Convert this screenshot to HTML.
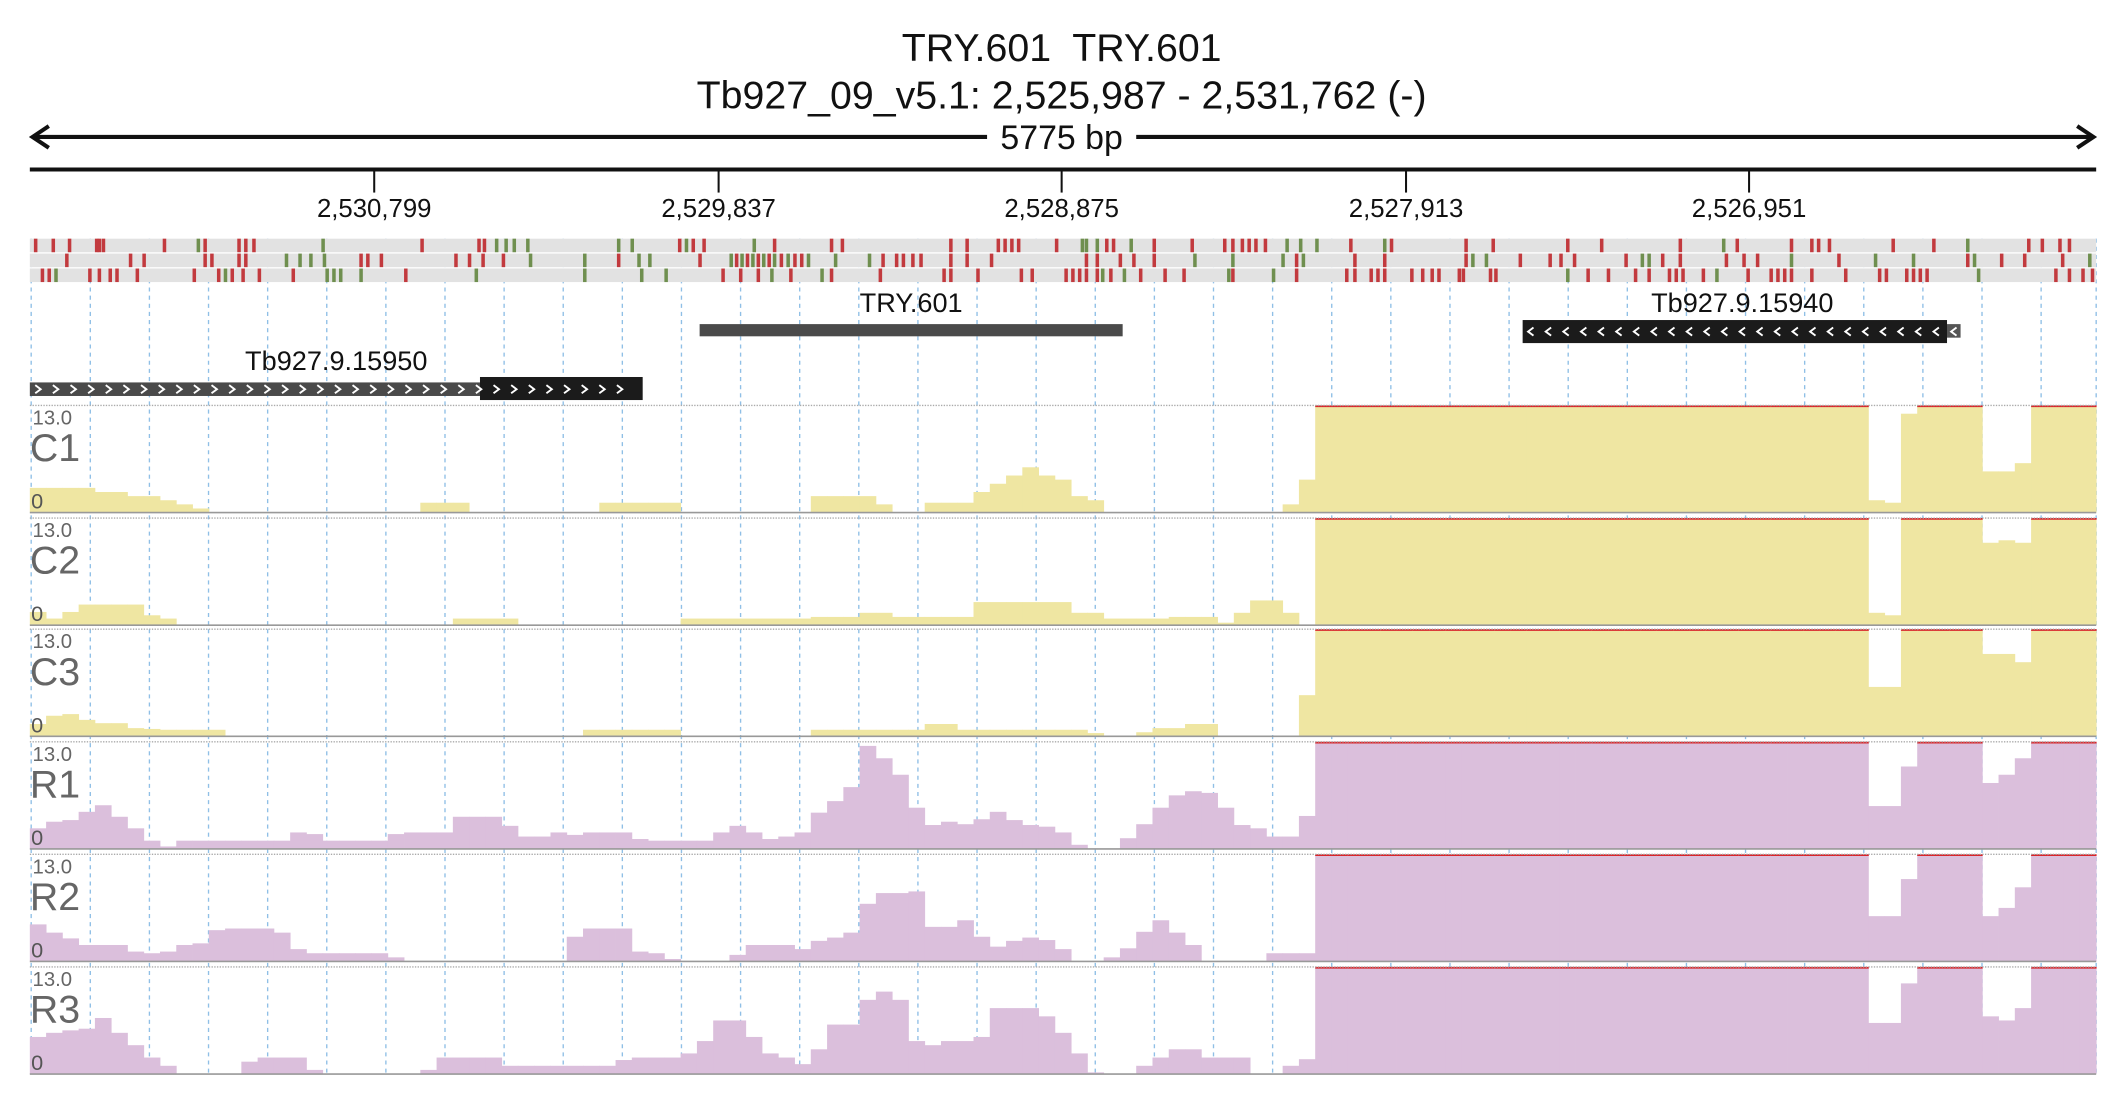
<!DOCTYPE html>
<html><head><meta charset="utf-8"><style>
html,body{margin:0;padding:0;background:#fff;}
svg{display:block;font-family:"Liberation Sans",sans-serif;}
</style></head><body>
<svg id="chart" width="2126" height="1112" viewBox="0 0 1568 820" preserveAspectRatio="none" xmlns="http://www.w3.org/2000/svg">
<g>
<text x="783" y="45" font-size="29" text-anchor="middle" fill="#111" xml:space="preserve">TRY.601  TRY.601</text>
<text x="783" y="80" font-size="29" text-anchor="middle" fill="#111">Tb927_09_v5.1: 2,525,987 - 2,531,762 (-)</text>
</g>
<g>
<line x1="24" y1="101" x2="1544" y2="101" stroke="#111" stroke-width="3"/>
<polyline points="36,93 24,101 36,109" fill="none" stroke="#111" stroke-width="3"/>
<polyline points="1532,93 1544,101 1532,109" fill="none" stroke="#111" stroke-width="3"/>
<rect x="728" y="88" width="110" height="26" fill="#fff"/>
<text x="783" y="110" font-size="25" text-anchor="middle" fill="#111">5775 bp</text>
</g>
<g id="axis">
<line x1="22" y1="125" x2="1546" y2="125" stroke="#111" stroke-width="3"/>
</g>
<g id="grid"></g>
<g id="variants"></g>
<g id="genes"></g>
<g id="tracks"></g>
</svg>
<script>
const NS='http://www.w3.org/2000/svg';
const tickLabels=['2,530,799','2,529,837','2,528,875','2,527,913','2,526,951'];
const tickPos=[276,530,783,1037,1290];
const trackNames=['C1','C2','C3','R1','R2','R3'];
const yMax=13;
const c1=[3,3,3,3,2.5,2.5,2,2,1.5,1,0.5,0,0,0,0,0,0,0,0,0,0,0,0,0,1.2,1.2,1.2,0,0,0,0,0,0,0,0,1.2,1.2,1.2,1.2,1.2,0,0,0,0,0,0,0,0,2,2,2,2,1,0,0,1.2,1.2,1.2,2.5,3.5,4.5,5.5,4.5,4,2,1.5,0,0,0,0,0,0,0,0,0,0,0,1,4,13,13,13,13,13,13,13,13,13,13,13,13,13,13,13,13,13,13,13,13,13,13,13,13,13,13,13,13,13,13,13,13,13,13,1.5,1.2,12,13,13,13,13,5,5,6,13,13,13,13];
const c2=[1.6,0.8,1.6,2.5,2.5,2.5,2.5,1.2,0.8,0,0,0,0,0,0,0,0,0,0,0,0,0,0,0,0,0,0.8,0.8,0.8,0.8,0,0,0,0,0,0,0,0,0,0,0.8,0.8,0.8,0.8,0.8,0.8,0.8,0.8,1,1,1,1.5,1.5,1,1,1,1,1,2.8,2.8,2.8,2.8,2.8,2.8,1.5,1.5,0.8,0.8,0.8,0.8,1,1,1,0.3,1.5,3,3,1.5,0,13,13,13,13,13,13,13,13,13,13,13,13,13,13,13,13,13,13,13,13,13,13,13,13,13,13,13,13,13,13,13,13,13,13,1.5,1.2,13,13,13,13,13,10,10.3,10,13,13,13,13];
const c3=[1.5,2.5,2.7,2,1.6,1.6,1,0.9,0.8,0.8,0.8,0.8,0,0,0,0,0,0,0,0,0,0,0,0,0,0,0,0,0,0,0,0,0,0,0.8,0.8,0.8,0.8,0.8,0.8,0,0,0,0,0,0,0,0,0.8,0.8,0.8,0.8,0.8,0.8,0.8,1.5,1.5,0.8,0.8,0.8,0.8,0.8,0.8,0.8,0.8,0.4,0,0,0.5,1,1,1.5,1.5,0,0,0,0,0,5,13,13,13,13,13,13,13,13,13,13,13,13,13,13,13,13,13,13,13,13,13,13,13,13,13,13,13,13,13,13,13,13,13,13,6,6,13,13,13,13,13,10,10,9,13,13,13,13];
const r1=[2.5,3.3,3.5,4.5,5.3,3.9,2.5,1,0.3,1,1,1,1,1,1,1,2,1.8,1,1,1,1,1.8,2,2,2,3.9,3.9,3.9,2.8,1.5,1.5,2,1.7,2,2,2,1.2,1,1,1,1,2,2.8,2,1.2,1.5,2,4.4,5.8,7.5,12.5,11,9,5,2.9,3.3,3,3.6,4.5,3.5,2.9,2.7,2,0.5,0,0,1.3,3,5,6.5,7,6.8,5,2.9,2.5,1.5,1.5,4,13,13,13,13,13,13,13,13,13,13,13,13,13,13,13,13,13,13,13,13,13,13,13,13,13,13,13,13,13,13,13,13,13,13,5.2,5.2,10,13,13,13,13,8,9,11,13,13,13,13];
const r2=[4.5,3.5,2.8,2,2,2,1.2,1,1.2,2,2.2,3.8,4,4,4,3.5,1.5,1,1,1,1,1,0.5,0,0,0,0,0,0,0,0,0,0,3,4,4,4,1.2,1,0.3,0,0,0,0.8,2,2,2,1.5,2.5,2.9,3.5,7,8.3,8.3,8.5,4.2,4.2,5,3,1.8,2.5,2.9,2.6,1.5,0,0,0.5,1.6,3.6,5,3.5,2,0,0,0,0,1,1,1,13,13,13,13,13,13,13,13,13,13,13,13,13,13,13,13,13,13,13,13,13,13,13,13,13,13,13,13,13,13,13,13,13,13,5.5,5.5,10,13,13,13,13,5.5,6.5,9,13,13,13,13];
const r3=[4.5,5,5.3,5.5,6.8,5,3.5,2,1,0,0,0,0,1.5,2,2,2,0.5,0,0,0,0,0,0,0.5,2,2,2,2,1,1,1,1,1,1,1,1.7,2,2,2,2.5,4,6.5,6.5,4.5,2.5,2,1.2,3,6,6,9,10,9,4,3.5,4,4,4.5,8,8,8,7,5,2.5,0.2,0,0,1,2,3,3,2,2,2,0,0,1,1.8,13,13,13,13,13,13,13,13,13,13,13,13,13,13,13,13,13,13,13,13,13,13,13,13,13,13,13,13,13,13,13,13,13,13,6.2,6.2,11,13,13,13,13,7,6.5,8,13,13,13,13];
const trackValues=[c1,c2,c3,r1,r2,r3];
const variantRow1='25,38,50,70,72,75,120,145g,150,175,180,186,237g,310,352,356,365g,372g,378g,388g,455g,465g,500,505g,510,518,555g,570,612,620,700,712,735,740,745,750,778,797g,800g,808g,815,820,833g,850,878,902,908,915,920,925,932,948g,958g,970g,995,1020g,1025,1080,1100,1155,1180,1238,1270g,1280,1320,1335,1340,1348,1395,1425,1450g,1495,1505,1518,1525';
const variantRow2='48,95,105,150,155,175,180,210g,220g,228g,238g,265,270,280,335,345,355,370,390g,430g,455,470g,478g,515,538g,542,546g,550,554g,558,562g,566,570g,575,580g,585,590,595g,615g,640g,650,660,665,672,678,700,712,730,800,808,825,835,850,880g,908g,945g,955,960g,998,1020,1080,1085g,1095g,1120,1142,1150,1160,1198,1210g,1215g,1225,1238,1272,1285,1295,1320g,1355,1382g,1410g,1450,1455g,1475,1492,1520,1540g';
const variantRow3='30,35,40g,65,72,80,85,100,142,160,165g,170,178,190,215,240g,245g,250g,265g,298,350g,430g,472g,490g,532,545,558,568g,582,605g,612,648,695,700,720,752,760,785,790,795,800,808,812g,818,828g,840,858,872,905g,908,938g,955,992,998,1010,1015,1020,1040,1048,1055,1060,1075,1078,1098,1102,1155g,1170,1185,1205,1215,1230,1235,1240,1255,1265g,1288,1305,1310,1315,1320,1335,1360,1385,1390,1405,1410,1415,1420,1458g,1515,1525,1535,1542';
const variantRows=[variantRow1,variantRow2,variantRow3];

const X0=22,X1=1546,NB=127;
const bw=(X1-X0)/NB;
function xScale(i){return X0+i*bw;}
function mk(tag,attrs,parent){const e=document.createElementNS(NS,tag);for(const k in attrs)e.setAttribute(k,attrs[k]);parent.appendChild(e);return e;}

// axis ticks
const axis=document.getElementById('axis');
tickLabels.forEach((t,i)=>{
  const l=mk('line',{x1:tickPos[i],y1:125,x2:tickPos[i],y2:142,stroke:'#111','stroke-width':1.5},axis);
  
  
  const tx=mk('text',{x:tickPos[i],y:160,'font-size':19,'text-anchor':'middle',fill:'#111'},axis);
  tx.textContent=t;
  
  
});

// grid
const grid=document.getElementById('grid');
for(let k=0;k<36;k++){
  const x=Math.min(23+43.6*k,1546);
  const g=mk('line',{x1:x,y1:176,x2:x,y2:792,stroke:'#8fbfe6','stroke-width':1,'stroke-dasharray':'3,3'},grid);
  
  
}

// variants
const vg=document.getElementById('variants');
const rowY=[176,187,198];
variantRows.forEach((row,r)=>{
  const bg=mk('rect',{x:22,y:rowY[r],width:1524,height:10,fill:'#e2e2e2'},vg);
  
  
  row.split(',').forEach(s=>{
    const green=s.endsWith('g');const x=parseFloat(s);
    const v=mk('rect',{x:x,y:rowY[r],width:2.6,height:10,fill:green?'#6f8f4f':'#c23a3e'},vg);
    
    
  });
});

// genes
const gg=document.getElementById('genes');
function label(t,x,y,name){const e=mk('text',{x:x,y:y,'font-size':20,'text-anchor':'middle',fill:'#111'},gg);e.textContent=t;}
function chev(x0,x1,yc,dir){let d='';for(let x=x0;x<x1-4;x+=13){if(dir>0)d+=`M${x},${yc-3}L${x+4},${yc}L${x},${yc+3}`;else d+=`M${x+4},${yc-3}L${x},${yc}L${x+4},${yc+3}`;}
  const p=mk('path',{d:d,fill:'none',stroke:'#fff','stroke-width':1.4},gg);}
label('TRY.601',672,230,'gene-label-try601');
let r=mk('rect',{x:516,y:239,width:312,height:9,fill:'#4a4a4a'},gg);


label('Tb927.9.15940',1285,230,'gene-label-15940');
r=mk('rect',{x:1436,y:239,width:10,height:10,fill:'#555'},gg);


r=mk('rect',{x:1123,y:236,width:313,height:17,fill:'#1b1b1b'},gg);


chev(1127,1446,244.5,-1);
label('Tb927.9.15950',248,273,'gene-label-15950');
r=mk('rect',{x:22,y:282,width:332,height:10,fill:'#4a4a4a'},gg);


r=mk('rect',{x:354,y:278,width:120,height:17,fill:'#1b1b1b'},gg);


chev(26,466,287,1);

// coverage tracks
const tg=document.getElementById('tracks');
const tops=[299,382,464,547,630,713],TH=79;
trackNames.forEach((nm,t)=>{
  const top=tops[t],base=top+TH;
  const g=mk('g',{},tg);
  
  
  const col=nm[0]==='C'?'#efe6a2':'#dbbfdc';
  const yS=v=>base-Math.min(v,yMax)/yMax*TH;
  trackValues[t].forEach((v,i)=>{
    if(v<=0)return;
    const y=yS(v);
    const b=mk('rect',{x:xScale(i),y:y,width:bw+0.3,height:base-y,fill:col},g);
    
    
    if(v>=yMax){
      const c=mk('line',{x1:xScale(i),y1:top+0.6,x2:xScale(i)+bw+0.3,y2:top+0.6,stroke:'#d8252a','stroke-width':1.3},g);
      
      
    }
  });
  const l1=mk('line',{x1:22,y1:top,x2:1546,y2:top,stroke:'#aaa','stroke-width':1,'stroke-dasharray':'1,1'},g);
  
  
  const l2=mk('line',{x1:22,y1:base,x2:1546,y2:base,stroke:'#999','stroke-width':1.2},g);
  
  
  let e=mk('text',{x:24,y:top+14,'font-size':15,fill:'#666'},g);e.textContent='13.0';
  
  
  e=mk('text',{x:22,y:top+41,'font-size':29,fill:'#666'},g);e.textContent=nm;
  
  
  e=mk('text',{x:23,y:top+76,'font-size':16,fill:'#555'},g);e.textContent='0';
  
  
});
</script>
</body></html>
